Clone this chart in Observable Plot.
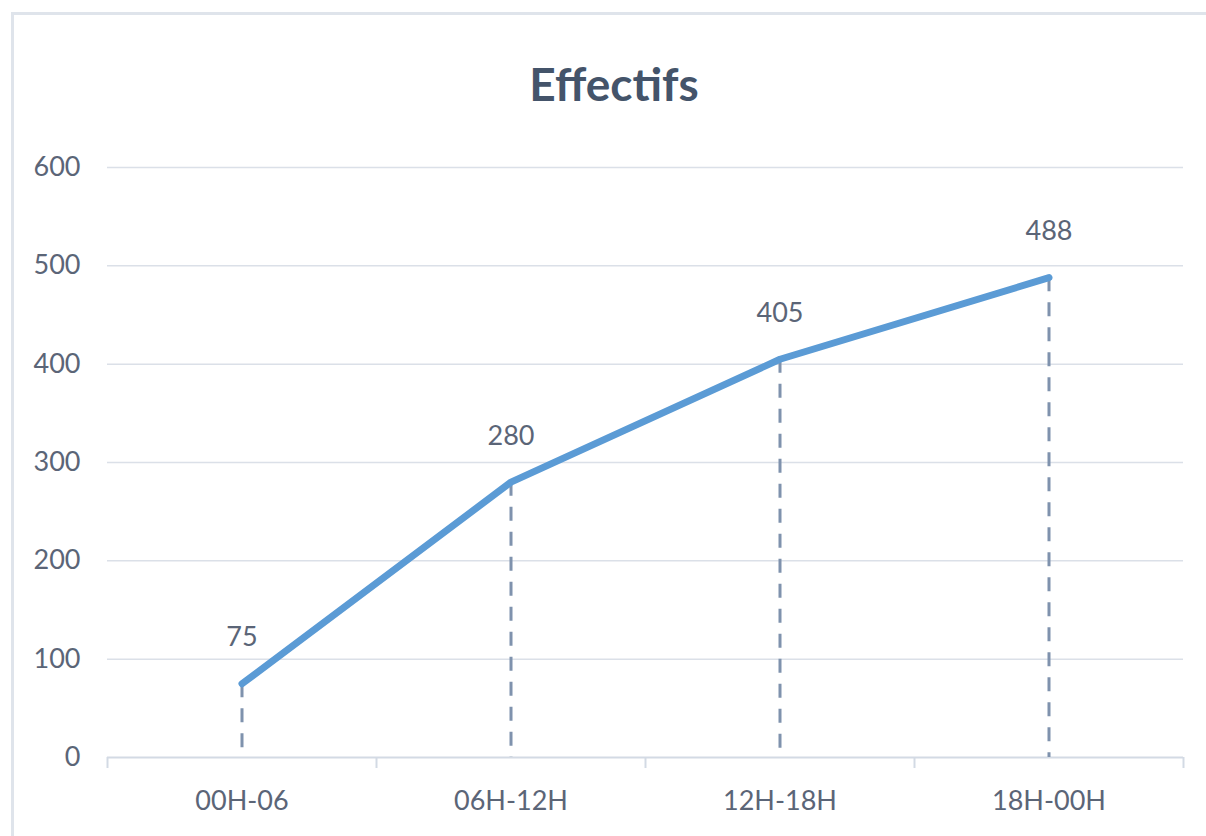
<!DOCTYPE html>
<html>
<head>
<meta charset="utf-8">
<script src="https://cdn.jsdelivr.net/npm/d3@7"></script>
<script src="https://cdn.jsdelivr.net/npm/@observablehq/plot@0.6"></script>
<style>
  html, body { margin: 0; padding: 0; background: #ffffff; }
  #page { position: relative; width: 1206px; height: 836px; overflow: hidden; background: #ffffff; }
  #frame {
    position: absolute; left: 11px; top: 12px; width: 1400px; height: 1000px;
    border-top: 3px solid #dfe4eb; border-left: 3px solid #dfe4eb;
  }
  #title {
    position: relative; height: 120px; box-sizing: border-box;
    padding-top: 61px; padding-left: 22px;
    text-align: center; font-family: Lato, "Open Sans", sans-serif;
    font-weight: 700; font-size: 46px; line-height: 46px; color: #44546a;
  }
  #chart { position: relative; }
</style>
</head>
<body>
<div id="page">
  <div id="frame"></div>
  <div id="title">Effectifs</div>
  <div id="chart"></div>
</div>
<script>
// Tranches horaires et effectifs correspondants
const periods = ["00H-06", "06H-12H", "12H-18H", "18H-00H"];
const effectifs = [75, 280, 405, 488];
const yTicks = [0, 100, 200, 300, 400, 500, 600];

const data = periods.map((period, i) => ({period, value: effectifs[i]}));

const width = 1206;
const marginLeft = 107;
const marginRight = 23;
const bandwidth = (width - marginLeft - marginRight) / periods.length;

const textColor = "#5b6577";
const gridColor = "#dbe0e8";
const axisColor = "#d3dae4";

const chart = Plot.plot({
  width,
  height: 716,
  marginTop: 47,
  marginBottom: 79,
  marginLeft,
  marginRight,
  style: {fontFamily: "Lato, 'Open Sans', sans-serif", fontSize: "27px", color: textColor, background: "transparent"},
  x: {type: "band", domain: periods, padding: 0, label: null},
  y: {domain: [0, 600], label: null},
  marks: [
    Plot.gridY(yTicks.filter(d => d > 0), {stroke: gridColor, strokeOpacity: 1, strokeWidth: 1.5}),
    Plot.ruleY([0], {stroke: axisColor, strokeWidth: 2}),
    Plot.axisY(yTicks, {tickSize: 0, tickPadding: 27, fill: textColor, fontSize: 27}),
    // category labels centred in each band
    Plot.axisX(periods, {tickSize: 0, tickPadding: 33, fill: textColor, fontSize: 27}),
    // tick marks on the band boundaries
    Plot.axisX(periods, {tickSize: 11, tickFormat: () => "", stroke: axisColor, strokeWidth: 2, strokeOpacity: 1, dx: -bandwidth / 2}),
    Plot.axisX(periods.slice(-1), {tickSize: 11, tickFormat: () => "", stroke: axisColor, strokeWidth: 2, strokeOpacity: 1, dx: bandwidth / 2}),
    // dashed drop lines from each point to the axis
    Plot.ruleX(data, {x: "period", y1: "value", y2: 0, stroke: "#7f92ad", strokeWidth: 3, strokeDasharray: "14,11"}),
    Plot.line(data, {x: "period", y: "value", stroke: "#5b9bd5", strokeWidth: 7, strokeLinecap: "round", strokeLinejoin: "round"}),
    Plot.text(data, {x: "period", y: "value", text: d => String(d.value), dy: -46, fill: textColor, fontSize: 27})
  ]
});

document.getElementById("chart").appendChild(chart);
</script>
</body>
</html>
